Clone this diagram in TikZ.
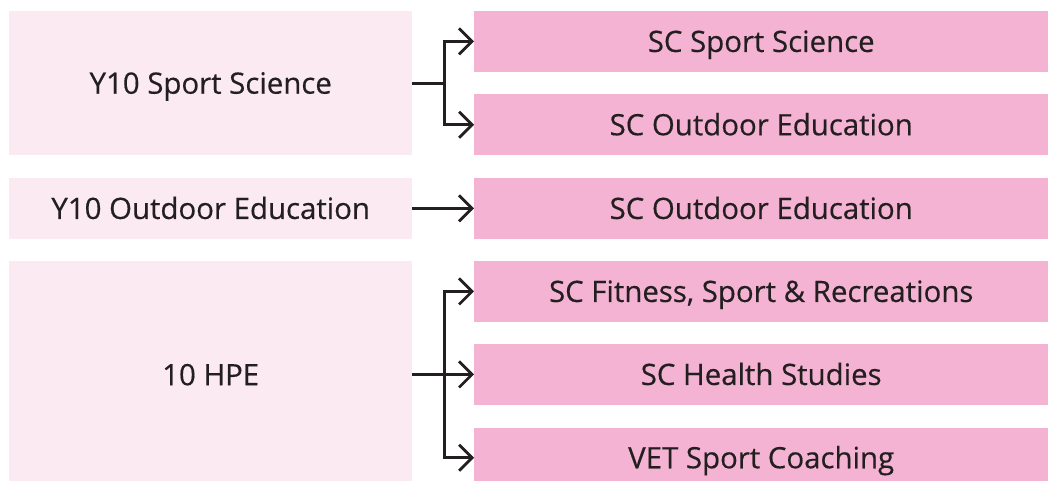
\documentclass[tikz,border=0pt]{standalone}
\usepackage{fontspec}
\newfontfamily\boxfont[FakeBold=0.4]{Open Sans}
\usetikzlibrary{arrows.meta,positioning}

\definecolor{palepink}{HTML}{FCEAF3}
\definecolor{rosepink}{HTML}{F4B3D3}
\definecolor{inkgrey}{HTML}{231F20}

\tikzset{
  year/.style={fill=palepink, anchor=north west, minimum width=403pt, inner sep=0pt,
    text=inkgrey, font=\boxfont\fontsize{29.4}{33}\selectfont, text height=21pt, text depth=0pt},
  course/.style={fill=rosepink, anchor=north west, minimum width=574pt, minimum height=60.5pt,
    inner sep=0pt, text=inkgrey, font=\boxfont\fontsize{29.4}{33}\selectfont, text height=21pt, text depth=0pt},
  link/.style={draw=inkgrey, line width=2.8pt, -{Straight Barb[length=13pt,width=26pt,line width=2.8pt]}}
}

\begin{document}
\begin{tikzpicture}[x=1pt, y=-1pt]
\clip (0,0) rectangle (1048,481);

\node[year, minimum height=144pt] (y_sport) at (9,11) {Y10 Sport Science};
\node[year, minimum height=60.5pt] (y_outdoor) at (9,178) {Y10 Outdoor Education};
\node[year, minimum height=227pt] (y_hpe) at (9,261) {10 HPE};

\node[course] (sc_sport) at (474,11) {SC Sport Science};
\node[course] (sc_outdoor) at (474,94.3) {SC Outdoor Education};
\node[course] (sc_outdoor') at (474,178) {SC Outdoor Education};
\node[course] (sc_fitness) at (474,261) {SC Fitness, Sport \& Recreations};
\node[course] (sc_health) at (474,344) {SC Health Studies};
\node[course] (vet_coach) at (474,427.3) {VET Sport Coaching};

\coordinate (b_sport) at ([xshift=32pt]y_sport.east);
\coordinate (b_hpe) at ([xshift=32pt]y_hpe.east |- sc_health.west);

\draw[draw=inkgrey, line width=2.8pt] (y_sport.east) -- (b_sport);
\draw[link] (b_sport) |- (sc_sport.west);
\draw[link] (b_sport) |- (sc_outdoor.west);

\draw[link] (y_outdoor.east) -- (sc_outdoor'.west);

\draw[link] (y_hpe.east |- sc_health.west) -- (sc_health.west);
\draw[link] (b_hpe) |- (sc_fitness.west);
\draw[link] (b_hpe) |- (vet_coach.west);
\end{tikzpicture}
\end{document}
